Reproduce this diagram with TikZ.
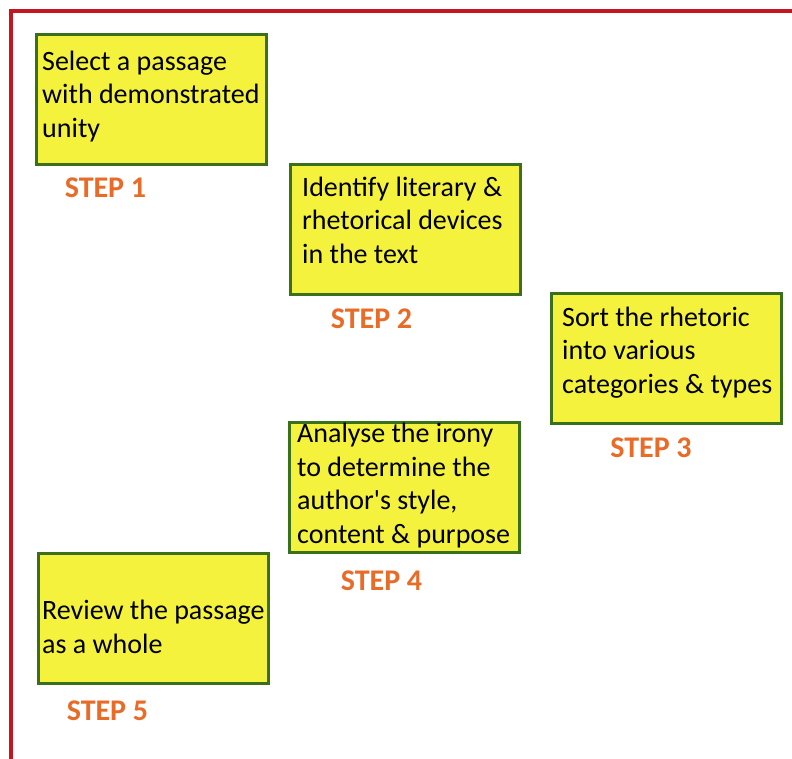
\documentclass[tikz,border=0pt]{standalone}
\usepackage{fontspec}
\setmainfont{Carlito}
% a Carlito family without the TeX quote mapping, so ' stays straight
\newfontfamily\boxfont{Carlito}
\definecolor{frameRed}{RGB}{196,22,30}
\definecolor{boxFill}{RGB}{244,242,60}
\definecolor{boxLine}{RGB}{58,112,28}
\definecolor{stepOrange}{RGB}{232,108,40}
\tikzset{
  stepbox/.style={draw=boxLine, fill=boxFill, line width=2.5pt, rectangle,
    anchor=north west, minimum width=230pt, minimum height=130pt, inner sep=0pt},
  % anchored at the baseline of the last line of the text
  steptext/.style={anchor=base west, align=left, inner sep=0pt, text=black,
    font={\boxfont\fontsize{28}{33.5}\selectfont}},
  steplabel/.style={anchor=base, inner sep=0pt, text=stepOrange,
    font={\boxfont\fontsize{30}{36}\selectfont\bfseries}}
}
\begin{document}
\begin{tikzpicture}[x=1pt,y=-1pt]
  \useasboundingbox[fill=white] (0,0) rectangle (792,758);
  % red frame (only top and left edges fall inside the page)
  \draw[frameRed, line width=4pt] (11,770) -- (11,11) -- (800,11);

  % step 1
  \node[stepbox] (box1) at (35,33) {};
  \node[steptext] (txt1) at (42,137) {Select a passage\\with demonstrated\\unity};
  \node[steplabel] (lab1) at (105.5,197) {STEP 1};

  % step 2
  \node[stepbox] (box2) at (289,163) {};
  \node[steptext] (txt2) at (302,263) {Identify literary \&\\rhetorical devices\\in the text};
  \node[steplabel] (lab2) at (371.5,328) {STEP 2};

  % step 3
  \node[stepbox] (box3) at (550,292) {};
  \node[steptext] (txt3) at (562,393) {Sort the rhetoric\\into various\\categories \& types};
  \node[steplabel] (lab3) at (651,457) {STEP 3};

  % step 4
  \node[stepbox] (box4) at (288,421) {};
  \node[steptext] (txt4) at (297,543) {Analyse the irony\\to determine the\\author's style,\\content \& purpose};
  \node[steplabel] (lab4) at (381.5,590) {STEP 4};

  % step 5
  \node[stepbox] (box5) at (37,552) {};
  \node[steptext] (txt5) at (42,653) {Review the passage\\as a whole};
  \node[steplabel] (lab5) at (107.5,720) {STEP 5};
\end{tikzpicture}
\end{document}
